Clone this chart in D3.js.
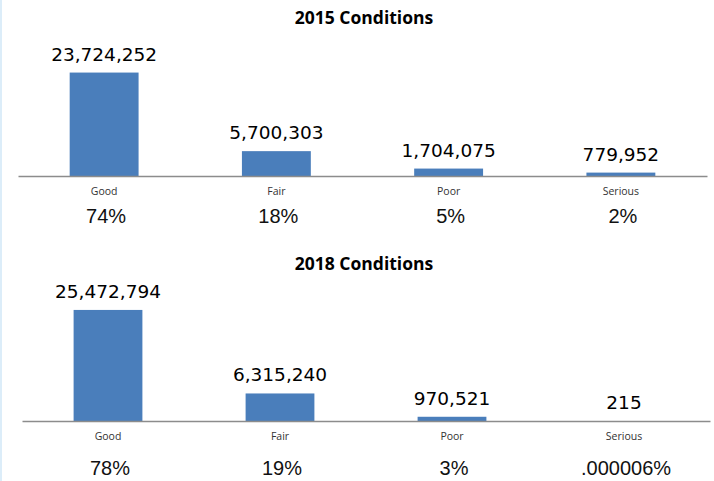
<!DOCTYPE html>
<html>
<head>
<meta charset="utf-8">
<script src="https://cdn.jsdelivr.net/npm/d3@7"></script>
<style>
  body { margin: 0; background: #fff; }
  svg { display: block; }
</style>
</head>
<body>
<svg id="chart" width="714" height="481"></svg>
<script>
// data
var categories = ["Good", "Fair", "Poor", "Serious"];
var titles = ["2015 Conditions", "2018 Conditions"];
var values2015 = [23724252, 5700303, 1704075, 779952];
var values2018 = [25472794, 6315240, 970521, 215];
var pct2015 = ["74%", "18%", "5%", "2%"];
var pct2018 = ["78%", "19%", "3%", ".000006%"];

var svg = d3.select("#chart");
var fmt = d3.format(",");

// light blue strip on the left edge
svg.append("rect").attr("x", 0).attr("y", 0).attr("width", 2).attr("height", 481)
   .attr("fill", "#dcedf9");

// panel layouts
var panels = [
  { title: titles[0], values: values2015, pct: pct2015, axisY: 176, x0: 18, x1: 707, titleY: 24, pctDy: 47 },
  { title: titles[1], values: values2018, pct: pct2018, axisY: 421, x0: 22, x1: 710, titleY: 270, pctDy: 54 }
];

panels.forEach(function(p) {
  var x = d3.scaleBand()
            .domain(categories)
            .range([p.x0, p.x1])
            .paddingInner(0.6)
            .paddingOuter(0.3);

  var y = d3.scaleLinear()
            .domain([0, 25000000])
            .range([p.axisY, p.axisY - 109]);

  var g = svg.append("g");

  g.append("text")
   .attr("x", 364)
   .attr("y", p.titleY)
   .attr("text-anchor", "middle")
   .style("font-family", "'Open Sans', sans-serif")
   .style("font-weight", "bold")
   .style("font-size", "17.5px")
   .style("fill", "#000")
   .text(p.title);

  var rows = categories.map(function(c, i) {
    return { cat: c, value: p.values[i], pct: p.pct[i] };
  });

  g.selectAll("rect.bar")
   .data(rows)
   .enter()
   .append("rect")
   .attr("class", "bar")
   .attr("x", function(d) { return x(d.cat); })
   .attr("width", x.bandwidth())
   .attr("y", function(d) { return y(d.value); })
   .attr("height", function(d) { return y(0) - y(d.value); })
   .attr("fill", "#4a7ebb");

  // axis line
  var axis = d3.axisBottom(x).tickSize(0).tickFormat("");
  var ax = g.append("g")
            .attr("transform", "translate(0," + p.axisY + ")")
            .call(axis);
  ax.select(".domain").attr("stroke", "#8c8c8c").attr("stroke-width", 1.5);

  // value labels
  g.selectAll("text.val")
   .data(rows)
   .enter()
   .append("text")
   .attr("class", "val")
   .attr("x", function(d) { return x(d.cat) + x.bandwidth() / 2; })
   .attr("y", function(d) { return y(d.value) - 12; })
   .attr("text-anchor", "middle")
   .style("font-family", "'DejaVu Sans', sans-serif")
   .style("font-size", "18.5px")
   .style("fill", "#000")
   .text(function(d) { return fmt(d.value); });

  // category labels
  g.selectAll("text.cat")
   .data(rows)
   .enter()
   .append("text")
   .attr("class", "cat")
   .attr("x", function(d) { return x(d.cat) + x.bandwidth() / 2; })
   .attr("y", p.axisY + 19)
   .attr("text-anchor", "middle")
   .style("font-family", "'Open Sans', sans-serif")
   .style("font-size", "10.5px")
   .style("fill", "#333")
   .text(function(d) { return d.cat; });

  // percent labels
  g.selectAll("text.pct")
   .data(rows)
   .enter()
   .append("text")
   .attr("class", "pct")
   .attr("x", function(d) { return x(d.cat) + x.bandwidth() / 2 + 2; })
   .attr("y", p.axisY + p.pctDy)
   .attr("text-anchor", "middle")
   .style("font-family", "'Liberation Sans', Arial, sans-serif")
   .style("font-size", "20px")
   .style("fill", "#111")
   .text(function(d) { return d.pct; });
});
</script>
</body>
</html>
